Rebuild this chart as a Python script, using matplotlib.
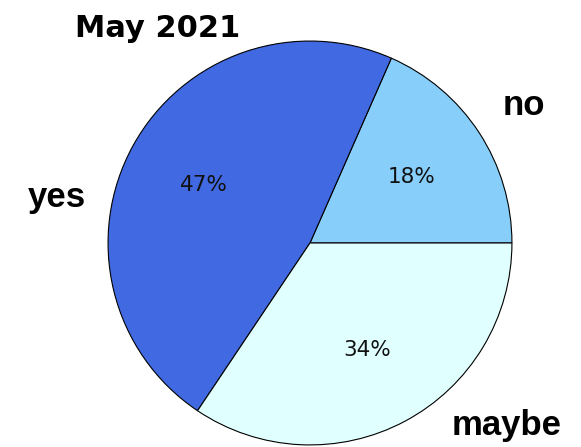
import matplotlib
matplotlib.use('Agg')
import matplotlib.pyplot as plt

# answers in May 2021 (share in %)
labels = ['no', 'yes', 'maybe']
shares = [18.4, 47.2, 34.4]
colors = ['lightskyblue', 'royalblue', 'lightcyan']
title = 'May 2021'

fig = plt.figure(figsize=(5.81, 4.47), dpi=100)
ax = fig.add_axes([0, 0, 1, 1])

ax.pie(shares, colors=colors, startangle=0, counterclock=True,
       autopct='%1.0f%%', pctdistance=0.6,
       wedgeprops={'edgecolor': 'black', 'linewidth': 0.8},
       textprops={'fontsize': 15.5, 'color': '#111111'})

# pie has radius 1, about 202 px on the picture
ax.set_xlim(-1.535, 1.342)
ax.set_ylim(-1.010, 1.203)
ax.set_aspect('equal')
ax.axis('off')

# labels sit outside the pie
label_font = {'family': 'Liberation Sans', 'weight': 'bold', 'size': 25}
ax.text(0.955, 0.634, labels[0], ha='left', va='baseline', fontdict=label_font)
ax.text(-1.396, 0.178, labels[1], ha='left', va='baseline', fontdict=label_font)
ax.text(0.703, -0.950, labels[2], ha='left', va='baseline', fontdict=label_font)

ax.text(-1.163, 1.020, title, ha='left', va='baseline',
        fontsize=22, fontweight='bold', family='DejaVu Sans')

fig.savefig('out.png', dpi=100)
